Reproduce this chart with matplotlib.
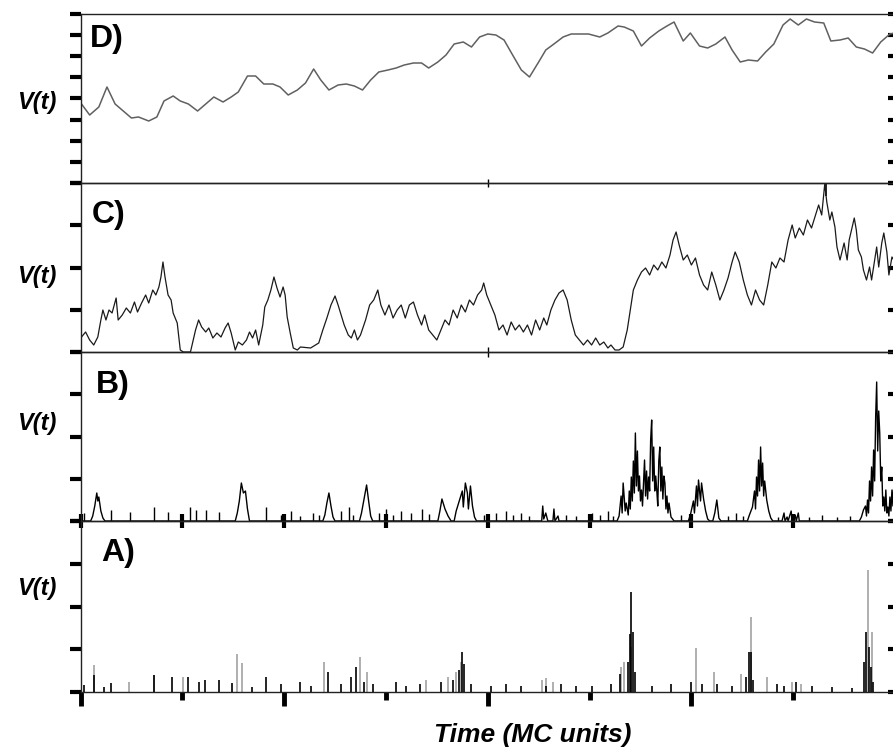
import numpy as np
import matplotlib
matplotlib.use("Agg")
import matplotlib.pyplot as plt

plt.rcParams['font.family'] = ['Liberation Sans', 'DejaVu Sans']

# time axis in MC units, V(t) in arbitrary units (panel height)
# D) slow, smooth drift
d_time = [1, 9, 18, 26, 34, 42, 50, 57, 67, 75, 82, 91, 98, 106, 115, 123, 131, 140, 148, 155,
          164, 172, 180, 189, 196, 204, 213, 221, 229, 236, 244, 253, 261, 269, 277, 285, 293, 302,
          310, 318, 327, 335, 342, 351, 359, 367, 376, 384, 392, 400, 408, 416, 425, 433, 441, 450,
          457, 465, 474, 482, 490, 499, 510, 518, 528, 534, 543, 551, 559, 568, 576, 583, 592, 599,
          608, 616, 624, 633, 640, 648, 656, 665, 673, 681, 690, 697, 705, 713, 721, 730, 737, 746,
          754, 762, 770, 778, 786, 795, 800]
d_vals = [79, 68, 76, 96, 79, 72, 65, 66, 62, 66, 82, 87, 82, 79, 72, 79, 86, 81, 86, 91,
          107, 107, 99, 99, 96, 88, 93, 100, 114, 103, 93, 98, 99, 97, 93, 103, 111, 113,
          115, 118, 120, 120, 115, 121, 128, 139, 141, 136, 146, 149, 148, 143, 127, 113, 106, 121,
          133, 139, 146, 149, 149, 149, 146, 150, 157, 156, 152, 137, 145, 152, 157, 161, 142, 150,
          137, 135, 139, 146, 133, 121, 123, 122, 131, 139, 158, 164, 158, 164, 161, 160, 142, 143,
          145, 136, 134, 130, 141, 149, 150]

# C) noisy random walk
c_time = [1, 5, 9, 13, 17, 20, 22, 25, 28, 31, 35, 37, 41, 45, 49, 53, 56, 60, 64, 67, 71, 74, 77,
          79, 81, 83, 86, 89, 91, 95, 98, 101, 108, 113, 116, 119, 123, 126, 130, 134, 138, 142,
          145, 148, 152, 155, 159, 163, 166, 169, 172, 175, 179, 181, 184, 187, 190, 193, 196, 199,
          201, 203, 206, 209, 213, 216, 226, 234, 238, 242, 246, 250, 253, 256, 259, 263, 266, 269,
          272, 275, 280, 284, 288, 292, 295, 299, 303, 307, 311, 315, 319, 323, 327, 331, 335, 338,
          342, 346, 350, 354, 358, 362, 366, 370, 374, 378, 382, 386, 390, 394, 396, 399, 403, 407,
          411, 415, 419, 423, 427, 431, 435, 439, 443, 447, 451, 455, 458, 462, 466, 470, 474, 478,
          482, 486, 490, 494, 498, 502, 506, 510, 514, 518, 521, 525, 529, 533, 537, 540, 543, 547,
          551, 555, 559, 563, 567, 571, 575, 579, 582, 585, 588, 592, 596, 600, 604, 608, 612, 616,
          620, 624, 628, 632, 636, 640, 643, 647, 651, 655, 659, 663, 667, 671, 675, 679, 683, 687,
          691, 695, 699, 702, 706, 710, 714, 718, 722, 725, 728, 731, 733, 736, 738, 741, 743, 746,
          750, 753, 755, 758, 760, 762, 764, 767, 769, 772, 775, 777, 779, 782, 784, 787, 789, 792,
          794, 797, 800]
c_vals = [15, 20, 12, 7, 15, 32, 42, 32, 42, 39, 54, 32, 37, 44, 39, 50, 40, 49, 57, 49, 62, 57, 65,
          75, 90, 75, 57, 52, 39, 29, 2, 0, 0, 22, 32, 25, 20, 24, 14, 19, 15, 24,
          29, 19, 2, 10, 7, 12, 20, 14, 22, 7, 27, 45, 52, 62, 75, 64, 55, 65,
          57, 35, 19, 4, 2, 5, 4, 9, 22, 34, 47, 56, 47, 37, 27, 17, 14, 22,
          12, 17, 32, 47, 52, 62, 47, 37, 47, 34, 42, 47, 34, 47, 50, 37, 27, 37,
          22, 17, 12, 22, 32, 27, 42, 34, 47, 40, 52, 47, 57, 62, 69, 57, 47, 37,
          22, 27, 17, 30, 22, 27, 20, 27, 17, 32, 22, 34, 27, 42, 52, 59, 62, 52,
          32, 17, 12, 7, 12, 7, 14, 7, 10, 4, 7, 2, 2, 5, 22, 42, 62, 72,
          80, 84, 77, 87, 82, 90, 84, 97, 112, 120, 107, 92, 97, 87, 94, 77, 67, 62,
          80, 67, 52, 62, 74, 90, 100, 90, 72, 57, 47, 62, 52, 47, 67, 90, 84, 94,
          90, 112, 127, 114, 124, 117, 132, 124, 137, 147, 137, 168, 150, 132, 140, 125, 105, 92,
          109, 92, 112, 125, 134, 122, 102, 95, 82, 72, 85, 72, 85, 105, 85, 109, 119, 100,
          77, 95, 90]

# B) intermittent bursts
b_time = [0, 10, 12, 14, 16, 17, 18, 20, 22, 24,
          152, 154, 156, 158, 160, 162, 164, 166,
          238, 240, 242, 244, 246, 248, 250,
          274, 276, 279, 281, 283, 285, 287,
          351, 353, 355, 358, 361, 364, 367, 369, 372, 375, 376, 378, 380, 381, 383, 385, 387, 389,
          453, 454, 455, 457, 459, 464, 465, 466, 469, 470,
          527, 529, 531, 532, 533, 535, 536, 538, 539, 540, 541, 542, 543, 544, 545, 546, 547, 548,
          549, 550, 551, 552, 554, 555, 556, 557, 558, 559, 560, 561, 562, 563, 564, 565, 566, 567,
          568, 569, 570, 571, 572, 573, 574, 575, 576, 577, 578, 580, 583,
          597, 599, 602, 603, 605, 606, 607, 609, 610, 612, 614, 616, 618,
          621, 623, 625, 627, 629,
          655, 657, 660, 662, 663, 664, 665, 666, 667, 668, 669, 670, 671, 672, 674, 676, 678, 680,
          689, 691, 692, 694, 695, 698, 699, 702, 703, 705, 706,
          765, 767, 769, 771, 772, 773, 774, 775, 776, 777, 778, 779, 780, 781, 782, 783, 784, 785,
          786, 787, 788, 789, 790, 791, 792, 793, 794, 795, 796, 797, 798, 799, 800]
b_vals = [0, 0, 5, 15, 28, 20, 24, 10, 3, 0,
          0, 8, 20, 38, 28, 30, 12, 0,
          0, 6, 18, 28, 15, 4, 0,
          0, 8, 25, 36, 20, 5, 0,
          0, 10, 22, 12, 5, 0, 0, 10, 20, 30, 14, 38, 28, 12, 35, 15, 4, 0,
          0, 15, 2, 8, 0, 0, 12, 0, 5, 0,
          0, 5, 25, 8, 38, 10, 18, 6, 30, 12, 44, 20, 60, 28, 88, 35, 70, 30,
          45, 20, 31, 15, 61, 25, 50, 22, 44, 30, 81, 101, 40, 74, 30, 45, 31, 15,
          60, 74, 30, 54, 22, 45, 38, 12, 25, 8, 18, 4, 0,
          0, 6, 20, 8, 35, 15, 41, 20, 38, 22, 10, 2, 0,
          0, 8, 21, 3, 0,
          0, 6, 14, 30, 12, 44, 25, 61, 30, 74, 35, 58, 25, 40, 21, 10, 3, 0,
          0, 8, 0, 4, 0, 10, 0, 6, 0, 8, 0,
          0, 4, 11, 15, 5, 21, 8, 40, 20, 54, 25, 71, 40, 104, 139, 70, 110, 88,
          40, 54, 15, 24, 10, 31, 8, 14, 5, 24, 10, 31, 15, 41, 43]
b_spike_time = [3, 30, 49, 72, 86, 108, 113, 123, 136, 182, 197, 207, 216, 228, 234, 256, 264,
                268, 293, 300, 307, 315, 325, 335, 342, 396, 408, 418, 425, 433, 441, 477, 487,
                502, 510, 518, 523, 590, 636, 644, 651, 685, 716, 728, 743, 756]
b_spike_vals = [8, 11, 9, 14, 9, 14, 11, 11, 9, 14, 6, 10, 5, 8, 6, 10, 14,
                6, 8, 12, 6, 10, 8, 12, 7, 6, 8, 10, 6, 8, 5, 6, 5,
                8, 6, 10, 5, 6, 5, 8, 5, 4, 4, 6, 4, 5]

# A) isolated events
a_grey_time = [13, 48, 72, 101, 154, 159, 239, 275, 281, 339, 361, 369, 374, 453, 457, 464,
               531, 534, 541, 605, 622, 649, 659, 674, 699, 708, 773, 777]
a_grey_vals = [27, 10, 17, 15, 38, 29, 30, 35, 20, 12, 15, 20, 30, 12, 14, 10,
               25, 30, 45, 44, 20, 18, 75, 15, 10, 8, 122, 60]
a_black_time = [3, 13, 23, 30, 72, 90, 106, 116, 122, 136, 149, 168, 182, 197, 216, 226, 243,
                256, 266, 271, 278, 287, 310, 320, 333, 354, 366, 372, 375, 377, 384, 403, 418,
                433, 457, 472, 487, 502, 521, 530, 538, 540, 541, 543, 545, 561, 580, 600, 610,
                625, 640, 654, 657, 659, 661, 684, 691, 703, 718, 738, 758, 770, 772, 774, 776, 778]
a_black_vals = [7, 17, 5, 9, 17, 15, 15, 10, 12, 12, 9, 5, 15, 8, 10, 6, 20,
                8, 15, 25, 10, 8, 10, 6, 8, 10, 12, 22, 40, 28, 8, 6, 8,
                6, 6, 8, 6, 6, 8, 18, 30, 58, 100, 60, 20, 6, 8, 10, 8,
                8, 6, 15, 40, 40, 12, 8, 6, 10, 6, 5, 4, 30, 60, 45, 25, 10]

W, H = 893, 747
fig = plt.figure(figsize=(W / 100, H / 100), dpi=100)

# panel edges (top, bottom) in pixels from the top of the figure
edges = {'D': (14, 183), 'C': (183, 352), 'B': (352, 521), 'A': (521, 692)}
x0, x1 = 80.5, 895.0
axes = {}
for key, (top, bot) in edges.items():
    ax = fig.add_axes([x0 / W, 1 - bot / H, (x1 - x0) / W, (bot - top) / H])
    ax.set_xlim(0, 800)
    ax.set_ylim(0, bot - top)
    for s in ax.spines.values():
        s.set_linewidth(1.0)
        s.set_color('#222222')
    ax.patch.set_alpha(0)
    axes[key] = ax

# traces
axes['D'].plot(d_time, d_vals, color='#606060', lw=1.1)
axes['C'].plot(c_time, c_vals, color='#1a1a1a', lw=0.9)
axes['B'].plot(b_time, b_vals, color='black', lw=1.0)
axes['B'].vlines(b_spike_time, 0, b_spike_vals, colors='black', lw=1.0)
axes['A'].vlines(a_grey_time, 0, a_grey_vals, colors='#9a9a9a', lw=1.1)
axes['A'].vlines(a_black_time, 0, a_black_vals, colors='black', lw=1.2)

# y ticks: left outward, right inward at the clipped edge
nticks = {'D': 9, 'C': 5, 'B': 5, 'A': 5}
for key, ax in axes.items():
    top, bot = edges[key]
    yt = np.linspace(0, bot - top, nticks[key])
    ax.set_yticks(yt)
    ax.tick_params(axis='y', direction='out', length=8, width=3, labelleft=False, color='black')
    sec = ax.secondary_yaxis('right')
    sec.set_yticks(yt)
    sec.tick_params(axis='y', direction='in', length=5, width=3, labelright=False)
    sec.spines['right'].set_visible(False)

# x ticks
axA = axes['A']
axA.set_xticks([0, 200, 400, 600, 800])
axA.set_xticks([100, 300, 500, 700], minor=True)
axA.tick_params(axis='x', which='major', direction='out', length=10, width=3.5, labelbottom=False)
axA.tick_params(axis='x', which='minor', direction='out', length=6, width=3.5)

axB = axes['B']
axB.set_xticks(np.arange(0, 800, 100))
axB.tick_params(axis='x', direction='inout', length=10, width=3, labelbottom=False)

axC = axes['C']
axC.set_xticks([400])
axC.tick_params(axis='x', direction='inout', length=7, width=1, labelbottom=False)

axD = axes['D']
axD.set_xticks([400])
axD.set_xticks([732], minor=True)
axD.tick_params(axis='x', which='major', direction='inout', length=6, width=1, labelbottom=False)
axD.tick_params(axis='x', which='minor', direction='out', length=9, width=1.2)

# panel letters
letters = {'D': (0.011, 0.852), 'C': (0.014, 0.81), 'B': (0.019, 0.805), 'A': (0.025, 0.81)}
for key, (lx, ly) in letters.items():
    axes[key].text(lx, ly, key + ')', transform=axes[key].transAxes, fontsize=23,
                   fontweight='bold', ha='left', va='center')

# axis labels
for yc in [103, 277, 423, 588]:
    fig.text(37 / W, 1 - yc / H, 'V(t)', fontsize=17, fontweight='bold', fontstyle='italic',
             ha='center', va='center')
fig.text(533 / W, 1 - 735 / H, 'Time (MC units)', fontsize=19, fontweight='bold',
         fontstyle='italic', ha='center', va='center')

fig.savefig('out.png', dpi=100)
